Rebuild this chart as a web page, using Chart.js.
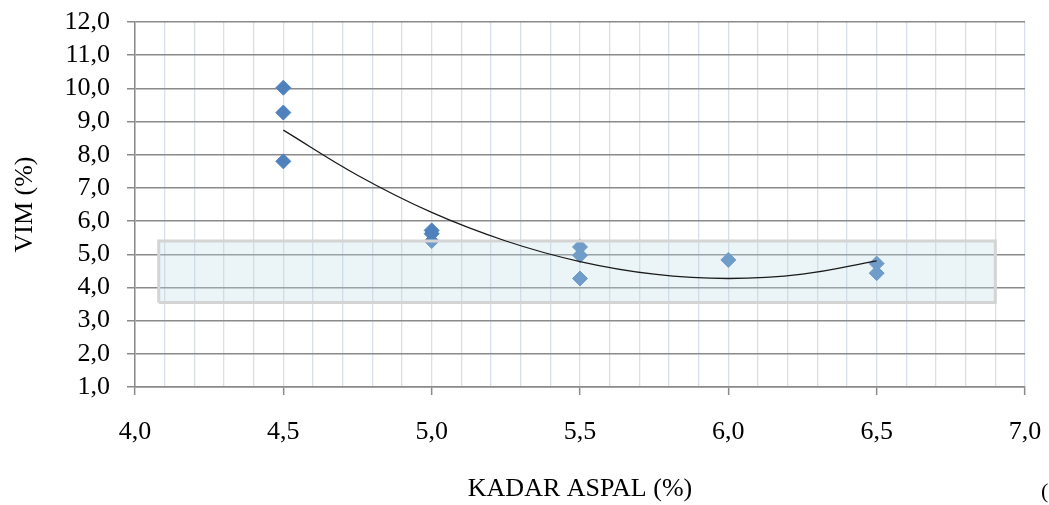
<!DOCTYPE html>
<html lang="id">
<head>
  <meta charset="UTF-8">
  <title>VIM vs Kadar Aspal</title>
  <script src="https://cdn.jsdelivr.net/npm/chart.js"></script>
  <style>
    body {
      margin: 0;
      background: #fff;
      overflow: hidden;
    }
    #wrap {
      position: relative;
      width: 1049px;
      height: 505px;
    }
    .stray {
      position: absolute;
      left: 1041px;
      top: 478px;
      font: 22px "Liberation Serif", serif;
      color: #000;
    }
  </style>
</head>
<body>
  <div id="wrap">
    <canvas id="vimChart" width="1049" height="505"></canvas>
    <span class="stray">(</span>
  </div>

  <script>
    // titik uji (kadar aspal %, VIM %)
    const kadarAspal = [4.5, 4.5, 4.5, 5.0, 5.0, 5.0, 5.5, 5.5, 5.5, 6.0, 6.5, 6.5];
    const vim = [10.02, 9.27, 7.8, 5.72, 5.62, 5.4, 5.22, 4.97, 4.27, 4.83, 4.72, 4.43];

    // garis tren
    const trendX = [4.5, 4.75, 5.0, 5.25, 5.5, 5.75, 6.0, 6.25, 6.5];
    const trendY = [8.74, 7.38, 6.26, 5.4, 4.78, 4.4, 4.27, 4.4, 4.8];

    // batas spesifikasi VIM (kotak)
    const bandX = [4.08, 6.9];
    const bandY = [3.55, 5.4];

    const xMin = 4.0, xMax = 7.0;
    const yMin = 1.0, yMax = 12.0;

    const serif = '"Liberation Serif", "Times New Roman", serif';
    const fmt = v => v.toFixed(1).replace('.', ',');
    const isMajor = v => Math.abs(v * 2 - Math.round(v * 2)) < 1e-6;

    const points = kadarAspal.map((x, i) => ({ x: x, y: vim[i] }));
    const trend = trendX.map((x, i) => ({ x: x, y: trendY[i] }));
    const band = [
      { x: bandX[0], y: bandY[0] },
      { x: bandX[1], y: bandY[0] },
      { x: bandX[1], y: bandY[1] },
      { x: bandX[0], y: bandY[1] },
      { x: bandX[0], y: bandY[0] }
    ];

    const ctx = document.getElementById('vimChart').getContext('2d');

    new Chart(ctx, {
      type: 'scatter',
      data: {
        datasets: [
          {
            label: 'Tren',
            data: trend,
            showLine: true,
            borderColor: '#1a1a1a',
            borderWidth: 1.3,
            pointRadius: 0,
            tension: 0.4,
            fill: false
          },
          {
            label: 'Spesifikasi',
            data: band,
            showLine: true,
            borderColor: '#d4d4d4',
            borderWidth: 3,
            backgroundColor: 'rgba(190, 220, 230, 0.3)',
            pointRadius: 0,
            tension: 0,
            fill: 'shape'
          },
          {
            label: 'VIM',
            data: points,
            pointStyle: 'rectRot',
            pointRadius: 7.5,
            backgroundColor: '#4f81bd',
            borderColor: '#4f81bd',
            borderWidth: 1
          }
        ]
      },
      options: {
        responsive: false,
        animation: false,
        devicePixelRatio: 1,
        layout: {
          padding: { top: 22, right: 24, bottom: 0, left: 0 }
        },
        plugins: {
          legend: { display: false },
          tooltip: { enabled: false }
        },
        scales: {
          x: {
            type: 'linear',
            min: xMin,
            max: xMax,
            afterFit: s => {
              s.height = 118;
              s.paddingLeft = 0;
              s.paddingRight = 0;
            },
            ticks: {
              stepSize: 0.1,
              autoSkip: false,
              maxRotation: 0,
              padding: 22,
              color: '#000',
              font: { family: serif, size: 26 },
              callback: v => isMajor(v) ? fmt(v) : ''
            },
            grid: {
              color: '#d6dfea',
              lineWidth: 1.3,
              tickLength: 8,
              tickColor: c => (c.tick && isMajor(c.tick.value)) ? '#8a8a8a' : 'rgba(0,0,0,0)',
              tickWidth: 1.5
            },
            border: { color: '#8a8a8a', width: 1.5 },
            title: {
              display: true,
              text: 'KADAR ASPAL (%)',
              color: '#000',
              font: { family: serif, size: 26 },
              padding: { top: 0, bottom: 0 }
            }
          },
          y: {
            type: 'linear',
            min: yMin,
            max: yMax,
            afterFit: s => {
              s.width = 135;
              s.paddingTop = 0;
              s.paddingBottom = 0;
            },
            ticks: {
              stepSize: 1,
              autoSkip: false,
              padding: 17,
              color: '#000',
              font: { family: serif, size: 26 },
              callback: v => fmt(v)
            },
            grid: {
              color: '#8a8a8a',
              lineWidth: 1.5,
              tickLength: 8
            },
            border: { color: '#8a8a8a', width: 1.5 },
            title: {
              display: true,
              text: 'VIM (%)',
              color: '#000',
              font: { family: serif, size: 26 },
              padding: { top: 10, bottom: 0 }
            }
          }
        }
      }
    });
  </script>
</body>
</html>
